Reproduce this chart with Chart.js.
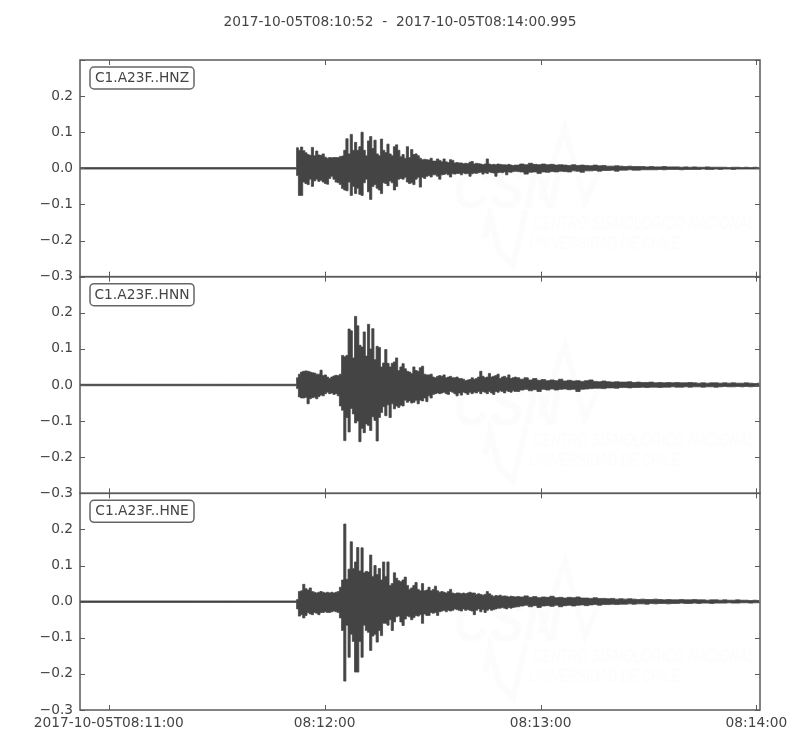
<!DOCTYPE html>
<html><head><meta charset="utf-8">
<style>html,body{margin:0;padding:0;background:#fff}canvas{display:block}</style>
<script src="https://cdn.jsdelivr.net/npm/chart.js@4"></script>
</head><body>
<div style="width:800px;height:750px"><canvas id="c" width="800" height="750"></canvas></div>
<script>
const titleText = '2017-10-05T08:10:52  -  2017-10-05T08:14:00.995';
const traceNames = ['C1.A23F..HNZ','C1.A23F..HNN','C1.A23F..HNE'];
const yTicks = [-0.3,-0.2,-0.1,0,0.1,0.2,0.3];
const xTickSeconds = [8,68,128,188];
const xTickLabels = ['2017-10-05T08:11:00','08:12:00','08:13:00','08:14:00'];
const endSeconds = 188.995;
// seconds after 08:10:52 where each envelope section starts, and its sample step
const quietStart = 0, quietStep = 5, strongStart = 60.4, strongStep = 0.6, tailStart = 122.8, tailStep = 1.2;

// envelope values in thousandths of the axis unit
const zQuietTop = [2,2,2,2,2,2,2,2,2,2,2,2,2];
const zQuietBot = [-2,-2,-2,-2,-2,-2,-2,-2,-2,-2,-2,-2,-2];
const zTop = [57,50,59,49,43,38,36,58,35,48,37,36,40,31,28,30,29,30,30,30,33,34,50,82,40,94,50,72,50,60,100,50,35,76,88,55,78,40,35,81,50,44,67,40,35,60,65,50,32,38,28,60,30,52,38,40,35,28,24,25,24,23,28,20,20,26,22,18,26,18,16,24,22,15,16,15,15,13,14,13,17,19,12,14,13,12,10,12,26,12,10,11,10,12,11,10,10,9,11,9,8,9,9];
const zBot = [-20,-75,-75,-38,-42,-45,-30,-50,-35,-30,-36,-33,-38,-42,-44,-28,-22,-30,-38,-40,-45,-56,-60,-62,-38,-75,-50,-70,-55,-72,-75,-40,-30,-65,-86,-50,-45,-55,-60,-70,-40,-42,-48,-35,-40,-60,-50,-30,-28,-30,-25,-38,-42,-40,-45,-30,-25,-52,-25,-28,-22,-20,-24,-18,-18,-22,-30,-18,-17,-15,-18,-24,-15,-16,-14,-14,-18,-13,-15,-14,-22,-15,-13,-14,-12,-11,-16,-12,-14,-10,-12,-13,-22,-12,-11,-12,-10,-18,-10,-11,-9,-8,-9];
const zTailTop = [12,10,14,11,10,12,10,11,9,10,9,8,10,8,9,8,7,9,7,8,6,6,7,6,5,6,5,5,5,4,5,4,4,5,4,4,4,3,4,3,4,3,3,4,3,3,3,3,2,3,3,2,3,2,3,2];
const zTailBot = [-10,-16,-11,-10,-14,-10,-11,-9,-10,-8,-9,-10,-7,-8,-11,-7,-7,-6,-8,-6,-6,-5,-8,-5,-5,-4,-5,-5,-4,-4,-4,-4,-3,-4,-3,-3,-3,-4,-3,-3,-3,-3,-2,-3,-3,-2,-3,-2,-2,-3,-2,-2,-2,-2,-2,-2];

const nQuietTop = [2,2,2,2,2,2,2,2,2,2,2,2,2];
const nQuietBot = [-2,-2,-2,-2,-2,-2,-2,-2,-2,-2,-2,-2,-2];
const nTop = [20,30,36,38,39,38,36,34,33,30,30,41,26,28,22,18,22,25,27,26,30,82,78,82,155,150,75,190,164,110,105,147,80,168,100,156,70,107,104,50,61,98,60,50,60,64,75,40,50,59,45,38,36,32,50,40,38,48,52,30,28,28,30,22,20,24,26,24,28,20,22,24,20,20,22,18,18,16,12,14,15,20,16,18,22,38,24,20,22,32,22,24,26,30,18,22,24,20,28,18,20,22,20];
const nBot = [-10,-33,-36,-36,-34,-52,-38,-35,-34,-38,-32,-28,-30,-24,-20,-24,-22,-26,-24,-30,-58,-70,-154,-90,-130,-65,-80,-105,-100,-157,-120,-132,-108,-112,-126,-88,-98,-155,-90,-76,-60,-85,-55,-90,-52,-66,-58,-62,-56,-58,-42,-48,-44,-50,-48,-42,-52,-42,-44,-36,-46,-30,-36,-26,-24,-22,-24,-22,-20,-24,-26,-18,-20,-24,-30,-22,-28,-20,-22,-26,-20,-24,-20,-22,-18,-24,-18,-20,-24,-18,-22,-26,-18,-20,-16,-18,-22,-16,-18,-20,-16,-18,-18];
const nTailTop = [16,20,14,18,13,15,12,14,12,16,11,13,11,12,10,12,14,10,9,11,9,8,9,8,8,9,7,8,7,7,8,6,7,6,7,6,7,6,6,7,6,5,6,5,6,6,5,6,5,6,5,5,6,5,4,5];
const nTailBot = [-14,-12,-16,-13,-18,-12,-14,-11,-14,-12,-11,-13,-12,-18,-12,-11,-10,-9,-9,-10,-8,-8,-9,-7,-7,-8,-7,-7,-6,-7,-6,-6,-7,-6,-6,-5,-6,-6,-5,-6,-5,-5,-6,-5,-5,-6,-5,-4,-5,-5,-4,-5,-4,-5,-4,-4];

const eQuietTop = [2,2,2,2,2,2,2,2,2,2,2,2,2];
const eQuietBot = [-2,-2,-2,-2,-2,-2,-2,-2,-2,-2,-2,-2,-2];
const eTop = [6,28,30,48,36,32,38,28,26,24,26,28,26,24,26,24,26,24,26,28,40,60,215,62,90,166,92,110,150,85,149,80,84,82,129,70,100,75,92,60,110,70,110,45,50,80,65,58,55,60,68,45,34,38,45,53,34,30,50,30,32,40,30,34,43,30,26,28,26,24,28,34,24,22,24,24,22,24,22,24,26,24,24,20,22,20,18,20,28,22,18,14,17,16,18,15,16,15,13,15,14,13,14];
const eBot = [-20,-40,-36,-45,-38,-30,-34,-36,-30,-32,-36,-30,-30,-28,-30,-30,-28,-26,-28,-30,-45,-80,-220,-65,-154,-90,-110,-195,-195,-110,-154,-65,-80,-85,-135,-95,-90,-112,-80,-94,-60,-60,-65,-50,-80,-56,-42,-40,-56,-66,-48,-40,-42,-50,-44,-38,-40,-36,-60,-34,-38,-38,-30,-32,-30,-38,-28,-26,-24,-28,-24,-26,-24,-20,-22,-24,-26,-20,-24,-22,-24,-26,-36,-24,-20,-28,-22,-30,-24,-20,-24,-22,-20,-18,-18,-16,-18,-20,-16,-18,-16,-15,-14];
const eTailTop = [13,16,12,14,11,13,12,15,11,12,10,12,11,13,10,10,9,11,9,9,8,9,7,8,7,8,7,6,7,6,6,7,6,5,6,5,5,6,5,5,6,5,5,4,5,5,4,5,4,4,5,4,4,3,4,3];
const eTailBot = [-12,-10,-14,-11,-16,-12,-11,-13,-10,-14,-11,-10,-12,-10,-9,-11,-9,-8,-10,-8,-8,-7,-8,-7,-7,-6,-7,-6,-6,-7,-5,-6,-5,-5,-6,-5,-5,-4,-5,-5,-4,-5,-4,-4,-5,-4,-4,-4,-3,-4,-4,-3,-3,-4,-3,-3];

const INK = '#444444', FRAME = '#5a5a5a', FONT = '"DejaVu Sans"', FS = 13.75;

function section(vals, start, step){ return vals.map((v,i)=>({x:start+i*step, y:v/1000})); }
function envelope(q, s, t){
  return [...section(q, quietStart, quietStep), ...section(s, strongStart, strongStep), ...section(t, tailStart, tailStep)];
}
function pair(axis, qt, qb, st, sb, tt, tb){
  const base = {yAxisID:axis, borderColor:INK, borderWidth:0.8, pointRadius:0, stepped:'middle', parsing:false, normalized:true};
  return [
    {...base, label:axis+' upper', data:envelope(qt,st,tt), fill:'+1', backgroundColor:INK},
    {...base, label:axis+' lower', data:envelope(qb,sb,tb), fill:false}
  ];
}
const fmtY = v => {
  const r = Math.round(v*10)/10;
  if (r === 0.3) return '';
  return (r<0?'\u2212':'') + Math.abs(r).toFixed(1);
};
function yAxis(){
  return {
    type:'linear', position:'left', stack:'traces', stackWeight:1, min:-0.3, max:0.3,
    grid:{display:false}, border:{display:false},
    afterBuildTicks:s=>{ s.ticks = yTicks.map(v=>({value:v})); },
    afterFit:s=>{ s.width = 80; },
    ticks:{color:INK, padding:-1, font:{family:FONT,size:FS}, callback:fmtY, autoSkip:false}
  };
}
const panelIds = ['yz','yn','ye'];

const decor = {
  id:'decor',
  beforeDatasetsDraw(chart){
    const ctx = chart.ctx;
    ctx.save();
    const a = chart.chartArea;
    ctx.beginPath(); ctx.rect(a.left,a.top,a.width,a.height); ctx.clip();
    panelIds.forEach(id=>{
      const top = chart.scales[id].top;
      ctx.fillStyle = '#fcfcfc'; ctx.strokeStyle = '#fcfcfc';
      ctx.textBaseline = 'alphabetic'; ctx.textAlign = 'left';
      ctx.font = 'italic bold 58px "Liberation Sans"';
      ctx.fillText('CSN', 453, top+148, 108);
      ctx.lineWidth = 6; ctx.lineJoin = 'miter';
      ctx.beginPath();
      [[540,140],[565,68],[585,142],[600,108]].forEach((p,i)=>i?ctx.lineTo(p[0],top+p[1]):ctx.moveTo(p[0],top+p[1]));
      ctx.stroke();
      ctx.beginPath();
      [[485,178],[490,155],[499,190],[513,205],[526,150]].forEach((p,i)=>i?ctx.lineTo(p[0],top+p[1]):ctx.moveTo(p[0],top+p[1]));
      ctx.stroke();
      ctx.font = 'italic 18px "Liberation Sans"';
      ctx.fillText('CENTRO SISMOLÓGICO NACIONAL', 533, top+169, 222);
      ctx.fillText('UNIVERSIDAD DE CHILE', 529, top+189, 151);
    });
    ctx.restore();
  },
  afterDraw(chart){
    const ctx = chart.ctx, a = chart.chartArea, xs = chart.scales.x;
    ctx.save();
    ctx.strokeStyle = FRAME; ctx.lineWidth = 1.5;
    panelIds.forEach((id,k)=>{
      const s = chart.scales[id];
      ctx.strokeRect(a.left, s.top, a.width, s.bottom-s.top);
      ctx.lineWidth = 1;
      ctx.beginPath();
      yTicks.forEach(v=>{
        const y = Math.round(s.getPixelForValue(v))+0.5;
        ctx.moveTo(a.left,y); ctx.lineTo(a.left+5,y);
        ctx.moveTo(a.right,y); ctx.lineTo(a.right-5,y);
      });
      xTickSeconds.forEach(v=>{
        const x = Math.round(xs.getPixelForValue(v))+0.5;
        ctx.moveTo(x,s.top); ctx.lineTo(x,s.top+5);
        ctx.moveTo(x,s.bottom); ctx.lineTo(x,s.bottom-5);
      });
      ctx.stroke();
      ctx.lineWidth = 1.5;
      // trace label box
      const bx = a.left+10, by = s.top+7, bw = 104, bh = 22;
      ctx.beginPath(); ctx.roundRect(bx,by,bw,bh,4);
      ctx.fillStyle = '#fff'; ctx.fill();
      ctx.strokeStyle = '#666'; ctx.stroke();
      ctx.strokeStyle = FRAME;
      ctx.fillStyle = INK; ctx.font = FS+'px '+FONT;
      ctx.textAlign = 'center'; ctx.textBaseline = 'middle';
      ctx.fillText(traceNames[k], bx+bw/2, by+bh/2+0.5);
    });
    ctx.restore();
  }
};

new Chart(document.getElementById('c'),{
  type:'line',
  data:{datasets:[
    ...pair('yz',zQuietTop,zQuietBot,zTop,zBot,zTailTop,zTailBot),
    ...pair('yn',nQuietTop,nQuietBot,nTop,nBot,nTailTop,nTailBot),
    ...pair('ye',eQuietTop,eQuietBot,eTop,eBot,eTailTop,eTailBot)
  ]},
  options:{
    responsive:false, animation:false,
    layout:{padding:0},
    plugins:{
      legend:{display:false}, tooltip:{enabled:false},
      title:{display:true,text:titleText,color:INK,font:{family:FONT,size:FS,weight:'normal'},padding:{top:14,bottom:29.5}}
    },
    scales:{
      x:{type:'linear',min:0,max:endSeconds,grid:{display:false},border:{display:false},
        afterBuildTicks:s=>{ s.ticks = xTickSeconds.map(v=>({value:v})); },
        afterFit:s=>{ s.height = 40; },
        ticks:{color:INK,padding:-3,maxRotation:0,autoSkip:false,font:{family:FONT,size:FS},
          callback:(v)=>xTickLabels[xTickSeconds.indexOf(v)]}},
      ye:yAxis(), yn:yAxis(), yz:yAxis(),
      margin:{type:'linear',position:'right',grid:{display:false},border:{display:false},
        ticks:{display:false},afterFit:s=>{ s.width = 40; }}
    }
  },
  plugins:[decor]
});
</script>
</body></html>
